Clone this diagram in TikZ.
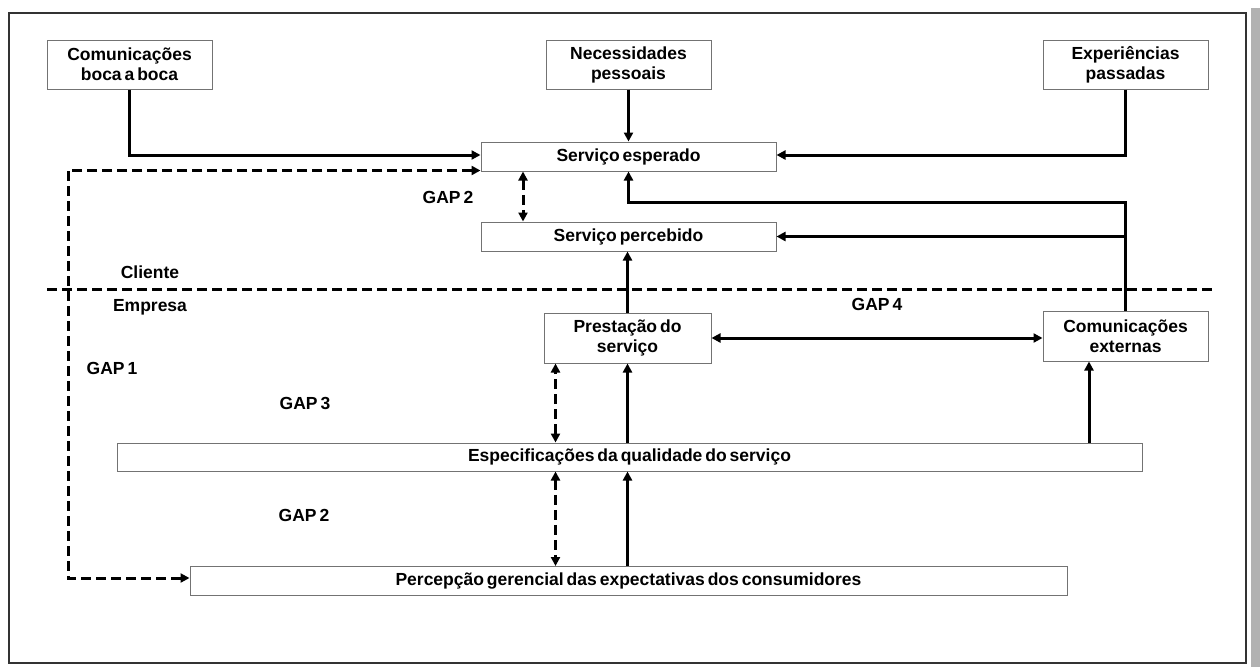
\documentclass[tikz,border=0pt]{standalone}
\usepackage{fontspec}
\setmainfont[WordSpace=0.6]{Liberation Sans}
\usetikzlibrary{arrows.meta}
\begin{document}
\begin{tikzpicture}[x=1pt,y=-1pt,
  box/.style={draw=black!55,line width=1pt,fill=white,inner sep=0pt,
    font=\bfseries\fontsize{17.5}{20}\selectfont,align=center},
  lbl/.style={font=\bfseries\fontsize{17.5}{20}\selectfont,inner sep=0pt},
  tip/.tip={Triangle[length=9pt,width=9pt]},
  conn/.style={line width=3pt,-tip},
  both/.style={line width=3pt,tip-tip},
  dd/.style={line width=3pt,dash pattern=on 10pt off 5pt,tip-tip},
  dline/.style={line width=3pt,dash pattern=on 10pt off 5pt}
]
\useasboundingbox (0,0) rectangle (1260,667);
\fill[white] (0,0) rectangle (1260,667);
\draw[line width=1.4pt,black!80] (9,13) rectangle (1246,663);
\fill[gray!60] (1251,8) rectangle (1260,667);

% boxes
\node[box,minimum width=165pt,minimum height=49pt] (boca) at (129.5,64.5) {Comunicações\\boca a boca};
\node[box,minimum width=165pt,minimum height=49pt] (nec) at (628.5,64.5) {Necessidades\\pessoais};
\node[box,minimum width=165pt,minimum height=49pt] (exp) at (1125.5,64.5) {Experiências\\passadas};
\node[box,minimum width=295pt,minimum height=29pt] (esp) at (628.5,156.5) {Serviço esperado};
\node[box,minimum width=295pt,minimum height=29pt] (perc) at (628.5,236.5) {Serviço percebido};
\node[box,minimum width=167pt,minimum height=50pt] (prest) at (627.5,338) {Prestação do\\serviço};
\node[box,minimum width=165pt,minimum height=50pt] (ext) at (1125.5,336) {Comunicações\\externas};
\node[box,minimum width=1025pt,minimum height=28pt] (spec) at (629.5,457) {Especificações da qualidade do serviço};
\node[box,minimum width=877pt,minimum height=29pt] (ger) at (628.5,581) {Percepção gerencial das expectativas dos consumidores};

% labels
\node[lbl] (cli) at (150,272) {Cliente};
\node[lbl] (emp) at (150,307) {Empresa};
\node[lbl] (gap1) at (112,368) {GAP 1};
\node[lbl] (gap3) at (305,403) {GAP 3};
\node[lbl] (gap2a) at (448,197) {GAP 2};
\node[lbl] (gap2b) at (304,515) {GAP 2};
\node[lbl] (gap4) at (877,304) {GAP 4};

% helper coordinates
\coordinate (turn) at (1125.5,202);
\coordinate (g2x) at (523,0);
\coordinate (g3x) at (555.5,0);
\coordinate (g4x) at (1089,0);
\coordinate (l2) at (68,578);
\coordinate (dl) at (47,289);
\coordinate (dr) at (1213,289);

% customer / company divider
\draw[dline] (dl) -- (dr);

% solid connectors
\draw[conn] (boca.south) |- ([yshift=1.5pt]esp.west);
\draw[conn] (nec.south) -- (esp.north);
\draw[conn] (exp.south) |- ([yshift=1.5pt]esp.east);
\draw[conn] (ext.north) -- (turn) -| (esp.south);
\draw[conn] (ext.north |- perc.east) -- (perc.east);
\draw[conn] (prest.north) -- (prest.north |- perc.south);
\draw[both] (prest.east) -- (prest.east -| ext.west);
\draw[conn] (spec.north -| prest.south) -- (prest.south);
\draw[conn] (spec.north -| g4x) -- (ext.south -| g4x);
\draw[conn] (ger.north -| prest.south) -- (spec.south -| prest.south);

% dashed gap arrows
\draw[dd] (esp.south -| g2x) -- (perc.north -| g2x);
\draw[dd] (spec.north -| g3x) -- (prest.south -| g3x);
\draw[dd] (spec.south -| g3x) -- (ger.north -| g3x);
\draw[dd] ([yshift=1pt]esp.south west) -| (l2) -- (l2 -| ger.west);
\end{tikzpicture}
\end{document}
